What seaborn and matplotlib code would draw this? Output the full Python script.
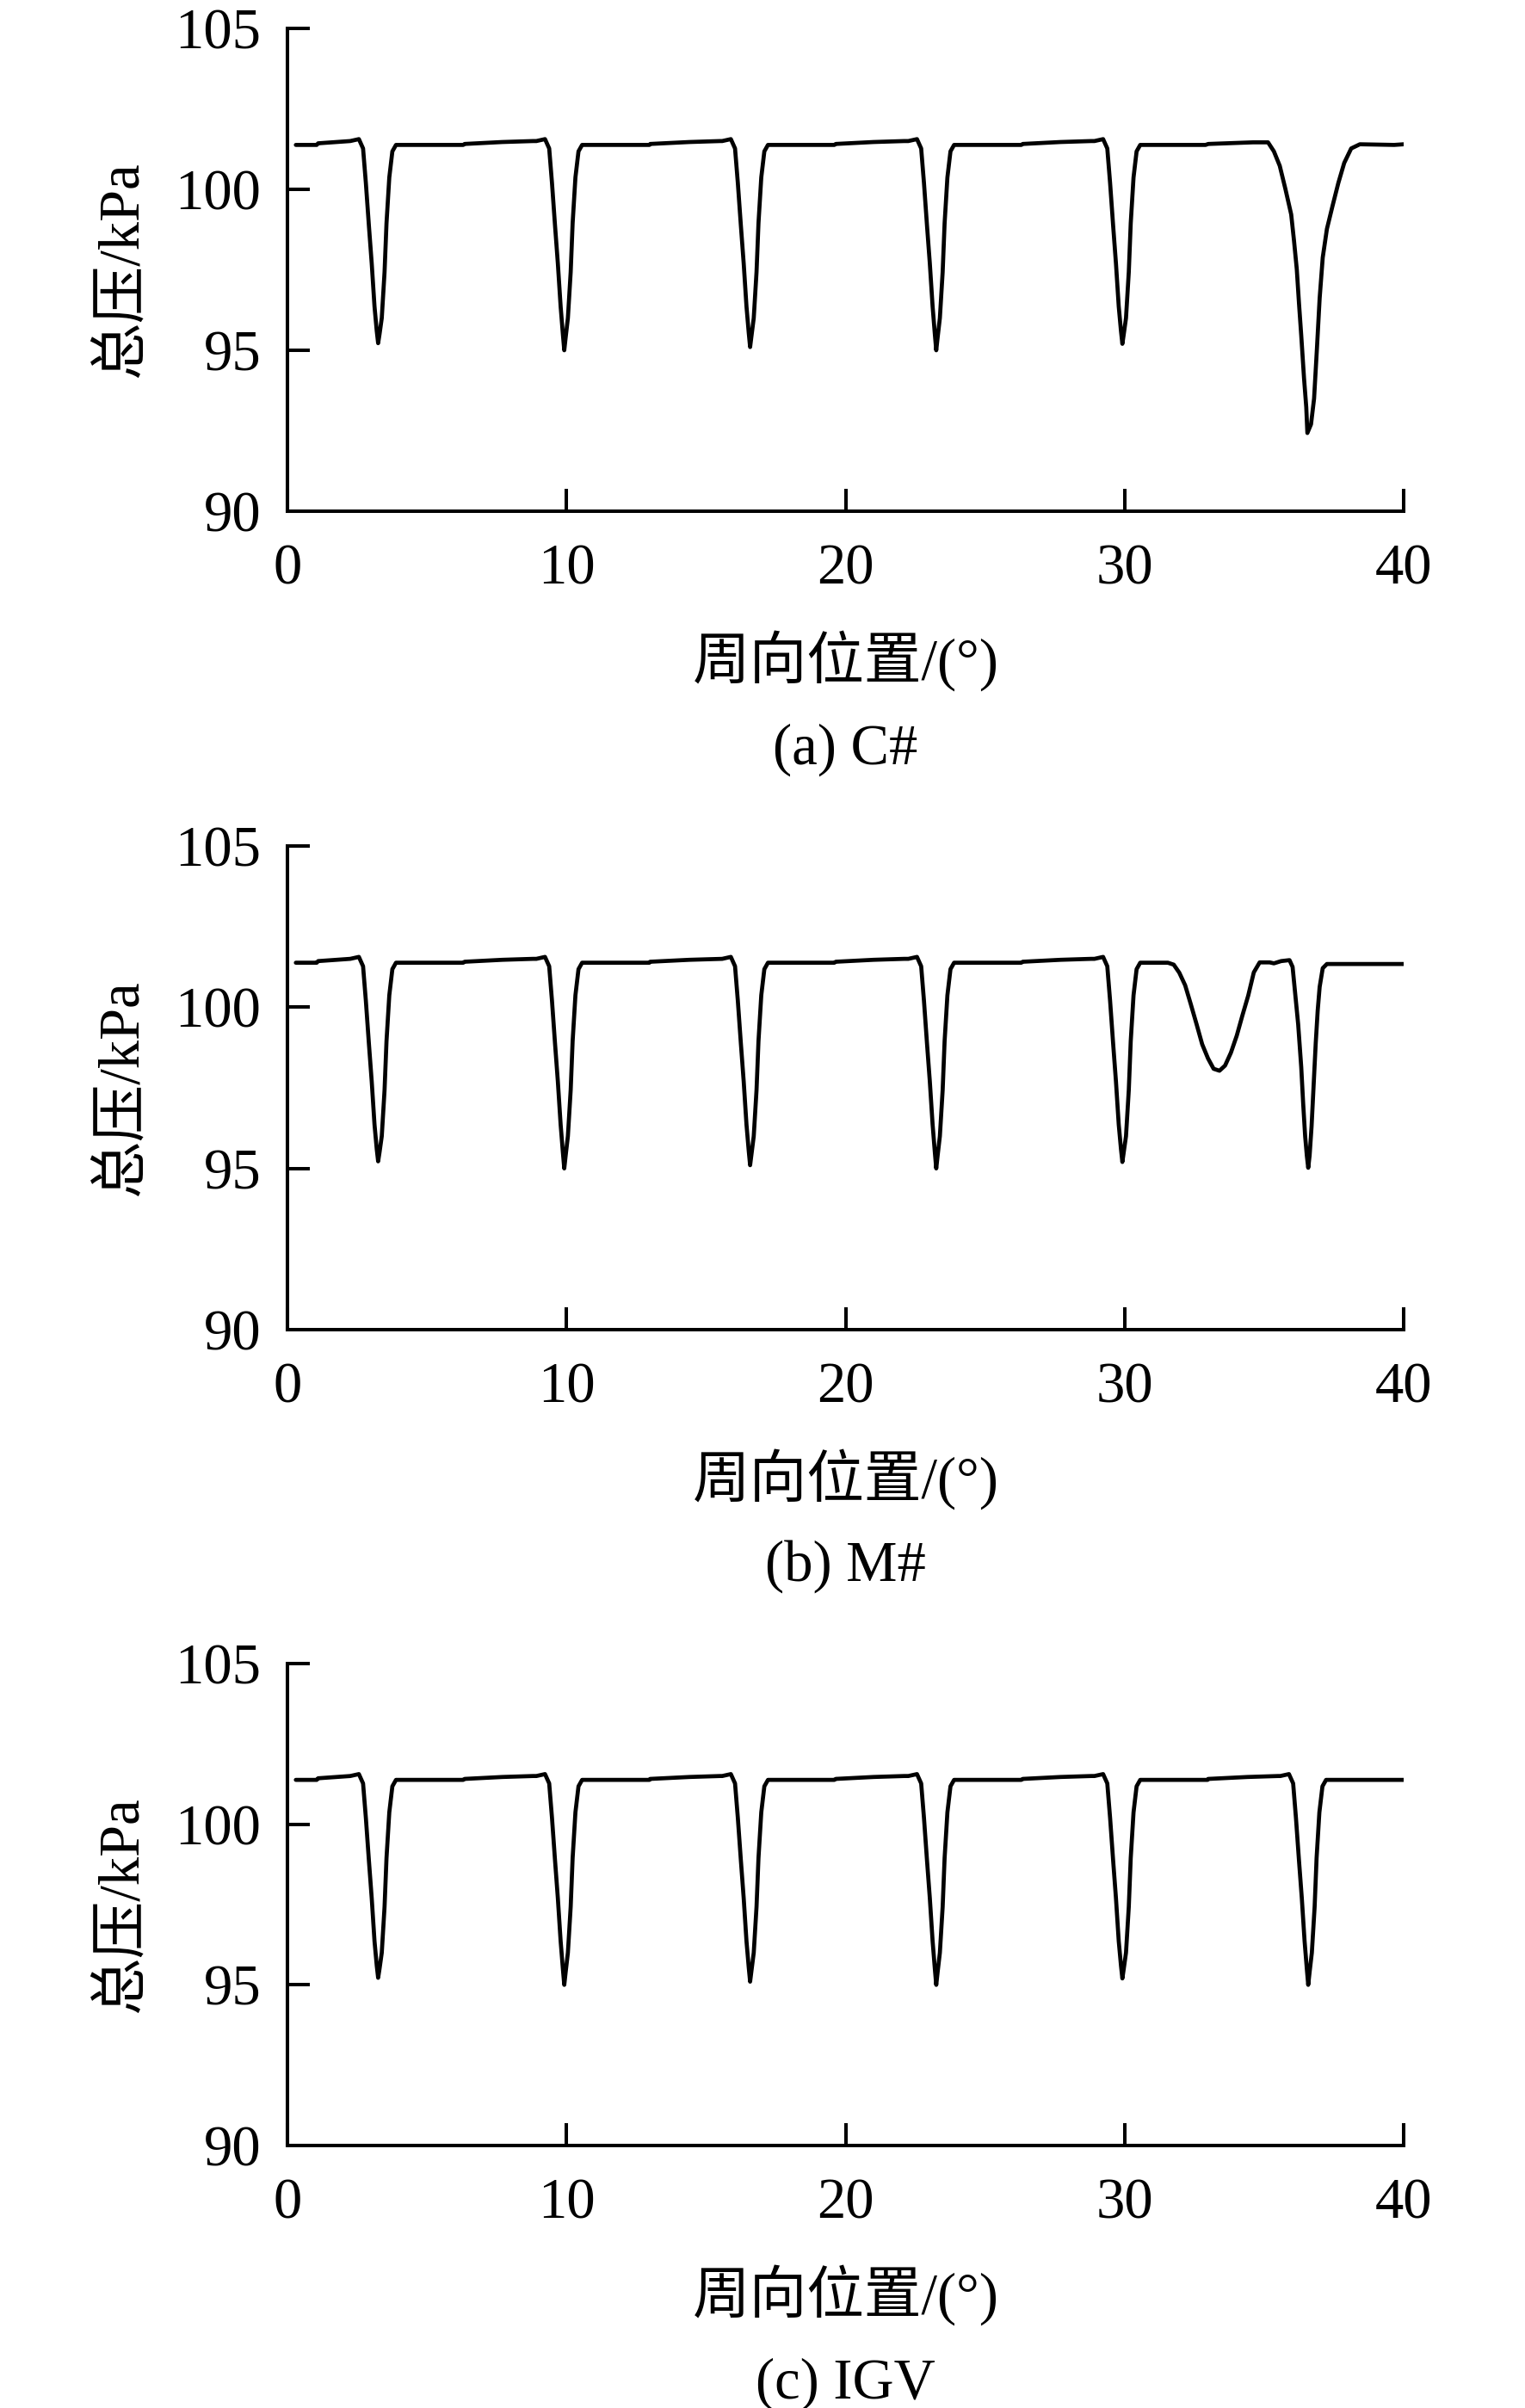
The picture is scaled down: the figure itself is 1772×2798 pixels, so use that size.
import matplotlib
matplotlib.use("Agg")
import matplotlib.pyplot as plt
import seaborn as sns
import pandas as pd

# ---------------- data ----------------
# shared part of the curve (0 .. ~31 deg), identical in all three panels
common_x = [0.30, 1.05, 1.10, 2.25, 2.56, 2.71, 2.81, 2.92, 3.02, 3.12, 3.20, 3.25, 3.30, 3.38, 3.48, 3.55, 3.65, 3.76, 3.89,
            6.30, 6.35, 7.70, 8.80,
            8.92, 9.23, 9.38, 9.48, 9.59, 9.69, 9.79, 9.87, 9.92, 9.97, 10.05, 10.15, 10.22, 10.32, 10.43, 10.56,
            12.97, 13.00, 14.40, 15.50,
            15.58, 15.89, 16.04, 16.14, 16.25, 16.35, 16.45, 16.53, 16.58, 16.63, 16.71, 16.81, 16.88, 16.98, 17.09, 17.22,
            19.60, 19.65, 21.00, 22.10,
            22.25, 22.56, 22.71, 22.81, 22.92, 23.02, 23.12, 23.20, 23.25, 23.30, 23.38, 23.48, 23.55, 23.65, 23.76, 23.89,
            26.30, 26.35, 27.70, 28.80,
            28.92, 29.23, 29.38, 29.48, 29.59, 29.69, 29.79, 29.87, 29.92, 29.97, 30.05, 30.15, 30.22, 30.32, 30.43, 30.56]
common_y = [101.38, 101.38, 101.43, 101.50, 101.56, 101.27, 100.20, 98.86, 97.70, 96.36, 95.60, 95.22, 95.50, 96.00, 97.43, 98.95, 100.37, 101.18, 101.38,
            101.38, 101.41, 101.47, 101.50,
            101.50, 101.56, 101.27, 100.20, 98.86, 97.70, 96.36, 95.50, 95.00, 95.40, 96.00, 97.43, 98.95, 100.37, 101.18, 101.38,
            101.38, 101.41, 101.47, 101.50,
            101.50, 101.56, 101.27, 100.20, 98.86, 97.70, 96.36, 95.55, 95.10, 95.45, 96.00, 97.43, 98.95, 100.37, 101.18, 101.38,
            101.38, 101.41, 101.47, 101.50,
            101.50, 101.56, 101.27, 100.20, 98.86, 97.70, 96.36, 95.50, 95.00, 95.40, 96.00, 97.43, 98.95, 100.37, 101.18, 101.38,
            101.38, 101.41, 101.47, 101.50,
            101.50, 101.56, 101.27, 100.20, 98.86, 97.70, 96.36, 95.60, 95.20, 95.50, 96.00, 97.43, 98.95, 100.37, 101.18, 101.38]

# (a) C#  - large wake near 36.5 deg
tail_a_x = [32.90, 33.00, 34.60, 35.14, 35.35, 35.56, 35.76, 35.97, 36.07, 36.17, 36.25, 36.33, 36.43, 36.51, 36.55,
            36.68, 36.79, 36.89, 36.99, 37.10, 37.25, 37.45, 37.66, 37.87, 38.12, 38.43, 39.66, 40.00]
tail_a_y = [101.38, 101.41, 101.46, 101.46, 101.18, 100.73, 100.02, 99.22, 98.41, 97.52, 96.45, 95.46, 94.13, 93.23, 92.43,
            92.70, 93.50, 95.02, 96.62, 97.88, 98.77, 99.48, 100.20, 100.82, 101.27, 101.40, 101.38, 101.40]

# (b) M#  - broad shallow wake near 33.4 deg plus blade wake
tail_b_x = [31.55, 31.76, 31.96, 32.17, 32.37, 32.58, 32.78, 32.99, 33.19, 33.40, 33.60, 33.81, 34.02, 34.22, 34.43,
            34.63, 34.84, 35.20, 35.35, 35.61, 35.91, 36.02, 36.12, 36.22, 36.33, 36.40, 36.47, 36.53, 36.58,
            36.63, 36.70, 36.78, 36.85, 36.92, 36.99, 37.10, 37.25, 40.00]
tail_b_y = [101.38, 101.32, 101.07, 100.68, 100.10, 99.47, 98.85, 98.41, 98.09, 98.03, 98.19, 98.59, 99.12, 99.74, 100.36,
            101.08, 101.39, 101.39, 101.36, 101.43, 101.46, 101.25, 100.36, 99.47, 98.14, 97.00, 96.00, 95.40, 95.02,
            95.40, 96.30, 97.70, 98.90, 99.90, 100.63, 101.21, 101.34, 101.34]

# (c) IGV - regular blade wake
tail_c_x = [32.97, 33.00, 34.40, 35.50,
            35.58, 35.89, 36.04, 36.14, 36.25, 36.35, 36.45, 36.53, 36.58, 36.63, 36.71, 36.81, 36.88, 36.98, 37.09, 37.22,
            40.00]
tail_c_y = [101.38, 101.41, 101.47, 101.50,
            101.50, 101.56, 101.27, 100.20, 98.86, 97.70, 96.36, 95.50, 95.00, 95.40, 96.00, 97.43, 98.95, 100.37, 101.18, 101.38,
            101.38]

captions = ["(a) C#", "(b) M#", "(c) IGV"]
x_label = "周向位置/(°)"
y_label = "总压/kPa"
x_ticks = [0, 10, 20, 30, 40]
y_ticks = [90, 95, 100, 105]

# ---------------- figure ----------------
sns.set_theme(style="ticks")
plt.rcParams["font.family"] = ["Liberation Serif", "Noto Sans CJK SC", "DejaVu Sans"]
plt.rcParams["axes.unicode_minus"] = False

W, H = 1772, 2798
fig = plt.figure(figsize=(W / 100, H / 100), dpi=100)
fig.patch.set_facecolor("white")

tails = [(tail_a_x, tail_a_y), (tail_b_x, tail_b_y), (tail_c_x, tail_c_y)]
# axes pixel extents (top, bottom) in the reference
extents = [(33, 594), (983, 1545), (1933, 2493)]
left_px, right_px = 334, 1631
caption_y_px = [871, 1820, 2770]

FS = 48
for i, ((tx, ty), (top, bot)) in enumerate(zip(tails, extents)):
    ax = fig.add_axes([left_px / W, 1 - bot / H, (right_px - left_px) / W, (bot - top) / H])
    df = pd.DataFrame({"x": common_x + tx, "y": common_y + ty})
    sns.lineplot(data=df, x="x", y="y", ax=ax, color="black", linewidth=3.4,
                 sort=False, estimator=None)
    ax.set_xlim(0, 40)
    ax.set_ylim(90, 105)
    ax.set_xticks(x_ticks)
    ax.set_yticks(y_ticks)
    ax.set_facecolor("white")
    for s in ["top", "right"]:
        ax.spines[s].set_visible(False)
    for s in ["left", "bottom"]:
        ax.spines[s].set_linewidth(2.9)
        ax.spines[s].set_color("black")
    ax.tick_params(axis="both", direction="in", length=19, width=2.9, color="black",
                   labelsize=FS, labelcolor="black")
    ax.tick_params(axis="x", pad=27)
    ax.tick_params(axis="y", pad=22)
    ax.set_xlabel(x_label, fontsize=FS, color="black", labelpad=29)
    ax.set_ylabel(y_label, fontsize=FS, color="black", labelpad=22)
    ax.grid(False)
    fig.text(0.5 * (left_px + right_px) / W, 1 - caption_y_px[i] / H, captions[i],
             ha="center", va="center", fontsize=FS, color="black")

fig.savefig("out.png", dpi=100, facecolor="white")
